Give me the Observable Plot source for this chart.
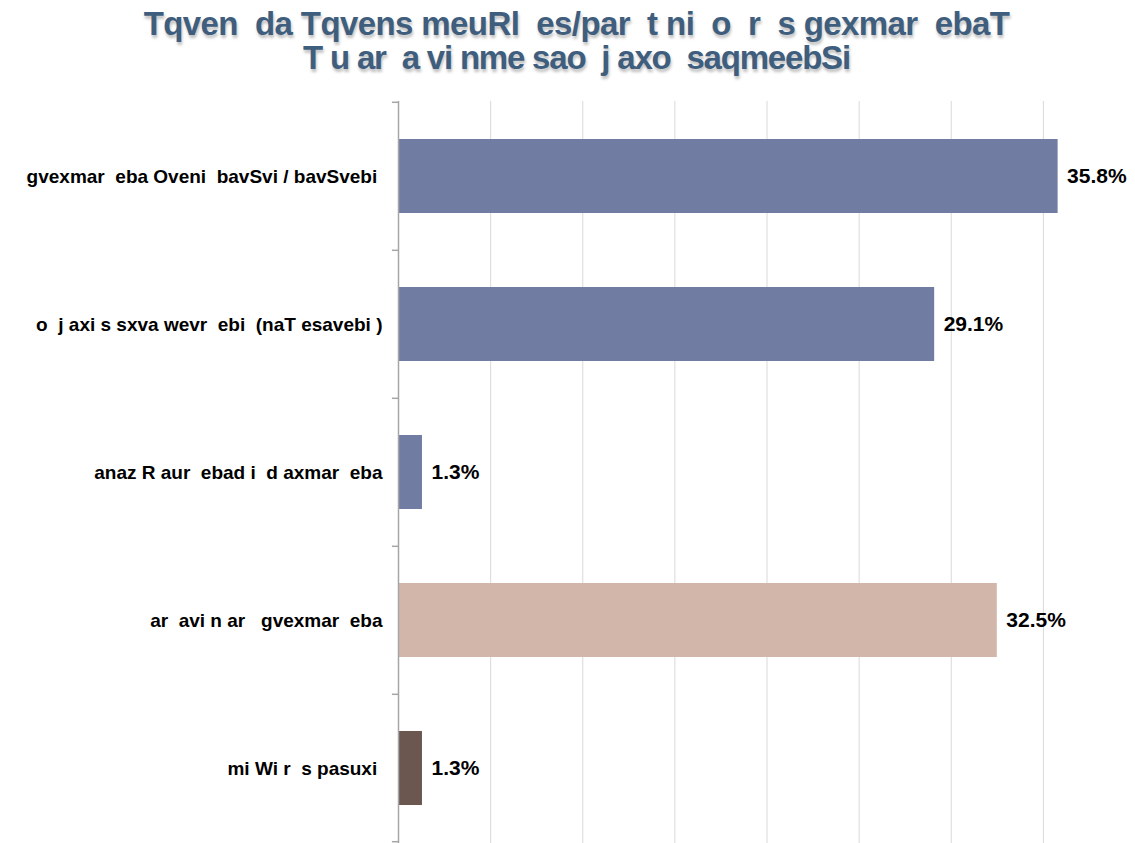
<!DOCTYPE html>
<html>
<head>
<meta charset="utf-8">
<script src="https://cdn.jsdelivr.net/npm/d3@7"></script>
<script src="https://cdn.jsdelivr.net/npm/@observablehq/plot@0.6"></script>
<style>
  html, body { margin: 0; padding: 0; background: #fff; }
  #title {
    width: 1135px; height: 88px; box-sizing: border-box; padding-top: 7px; padding-left: 18px;
    text-align: center; font-family: "Liberation Sans", Arial, sans-serif; white-space: pre;
    font-weight: bold; font-size: 33px; line-height: 34px; color: #3f5e7e;
    letter-spacing: -1.2px; text-shadow: 1px 3px 3px rgba(0,0,0,0.25);
  }
  #title .l1 { letter-spacing: -0.6px; }
  #chart svg { display: block; }
  #chart svg text { white-space: pre; }
</style>
</head>
<body>
<div id="title"></div>
<div id="chart"></div>
<script>
const titleLines = [
  "Tqven  da Tqvens meuRl  es/par  t ni  o  r  s gexmar  ebaT",
  "T u ar  a vi nme sao  j axo  saqmeebSi"
];
const categories = [
  "gvexmar  eba Oveni  bavSvi / bavSvebi ",
  "o  j axi s sxva wevr  ebi  (naT esavebi )",
  "anaz R aur  ebad i  d axmar  eba",
  "ar  avi n ar   gvexmar  eba",
  "mi Wi r  s pasuxi "
];
const values = [35.8, 29.1, 1.3, 32.5, 1.3];
const groups = ["help", "help", "help", "none", "na"];
const groupColors = {help: "#717ca3", none: "#d3b6aa", na: "#6b5650"};
const gridTicks = [5, 10, 15, 20, 25, 30, 35];

const titleEl = document.getElementById("title");
titleLines.forEach((t, i) => {
  const div = document.createElement("div");
  div.className = "l" + (i + 1);
  div.textContent = t;
  titleEl.appendChild(div);
});

const data = categories.map((c, i) => ({cat: c, value: values[i], group: groups[i]}));
const H = 843 - 88;
const mTop = 13;
const step = (H - mTop) / 5;

const chart = Plot.plot({
  width: 1135,
  height: H,
  marginLeft: 398,
  marginRight: 0,
  marginTop: mTop,
  marginBottom: 0,
  style: {fontFamily: "Liberation Sans, Arial, sans-serif", background: "#fff"},
  x: {domain: [0, 40], axis: null},
  y: {domain: categories, paddingInner: 0.5, paddingOuter: 0.25, axis: null},
  color: {domain: Object.keys(groupColors), range: Object.values(groupColors)},
  marks: [
    Plot.ruleX(gridTicks, {stroke: "#d9d9d9", strokeWidth: 1}),
    Plot.barX(data, {y: "cat", x: "value", fill: "group"}),
    Plot.ruleY(categories, {y: d => d, x1: -0.33, x2: 0, dy: -step / 2, stroke: "#a6a6a6", strokeWidth: 1.5}),
    Plot.ruleY([categories[4]], {y: d => d, x1: -0.33, x2: 0, dy: step / 2 - 1, stroke: "#a6a6a6", strokeWidth: 1.5}),
    Plot.ruleX([0], {stroke: "#a6a6a6", strokeWidth: 1.5}),
    Plot.axisY({tickSize: 0, tickPadding: 16, fontSize: 19, fontWeight: "bold", fill: "#000", label: null, style: {letterSpacing: "-0.3px"}}),
    Plot.text(data, {y: "cat", x: "value", text: d => d.value.toFixed(1) + "%", dx: 9, textAnchor: "start", fontSize: 21, fontWeight: "bold", fill: "#000", style: {letterSpacing: "0.6px"}})
  ]
});
document.getElementById("chart").appendChild(chart);
</script>
</body>
</html>
